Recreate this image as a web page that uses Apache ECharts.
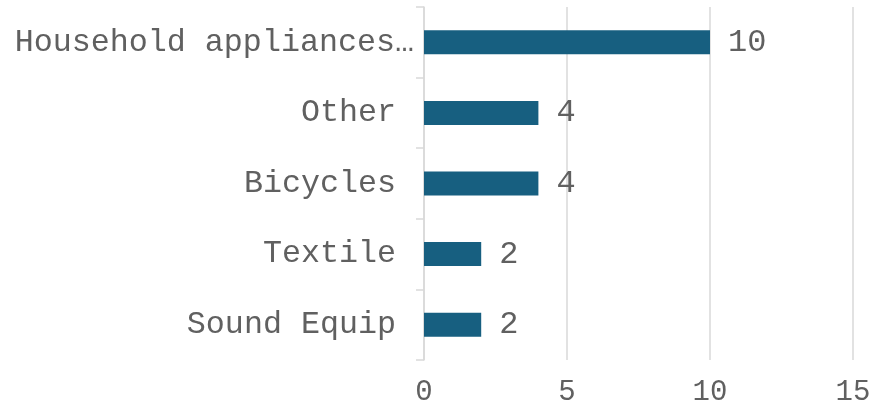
<!DOCTYPE html>
<html>
<head>
<meta charset="utf-8">
<script src="https://cdn.jsdelivr.net/npm/echarts@6/dist/echarts.min.js"></script>
<style>
    html, body { margin: 0; padding: 0; background: #fff; }
    #chart { width: 874px; height: 411px; }
</style>
</head>
<body>
<div id="chart"></div>
<script>
// categories, bottom to top
const categories = ['Sound Equip', 'Textile', 'Bicycles', 'Other', 'Household appliances…']
const counts = [2, 2, 4, 4, 10]
const xTicks = [0, 5, 10, 15]

const font = '"Liberation Mono", "Courier New", monospace'

let chart = echarts.init(document.getElementById('chart'))
let option = {
    animation: false,
    grid: {
        left: 424,
        right: 21,
        top: 7,
        bottom: 51,
    },
    xAxis: {
        type: 'value',
        min: xTicks[0],
        max: xTicks[xTicks.length - 1],
        interval: 5,
        axisLine: { show: false },
        axisTick: { show: false },
        splitLine: { lineStyle: { color: '#d9d9d9', width: 1.5 } },
        axisLabel: {
            fontFamily: font,
            fontSize: 29,
            color: '#606060',
            margin: 18,
        },
    },
    yAxis: {
        type: 'category',
        data: categories.map((c, i) => {
            // the long name sits closer to the axis
            if (i === categories.length - 1) return { value: c }
            return { value: c, textStyle: { padding: [0, 18, 0, 0] } }
        }),
        axisLine: { show: true, lineStyle: { color: '#d9d9d9', width: 1.5 } },
        axisTick: { show: true, length: 8, lineStyle: { color: '#d9d9d9', width: 1.5 } },
        axisLabel: {
            fontFamily: font,
            fontSize: 31.7,
            color: '#606060',
            margin: 10,
        },
    },
    series: [
        {
            type: 'bar',
            data: counts,
            barWidth: 24,
            itemStyle: { color: '#175f80' },
            label: {
                show: true,
                position: 'right',
                distance: 18,
                fontFamily: font,
                fontSize: 32,
                color: '#606060',
            },
        },
    ],
}
chart.setOption(option)
</script>
</body>
</html>
